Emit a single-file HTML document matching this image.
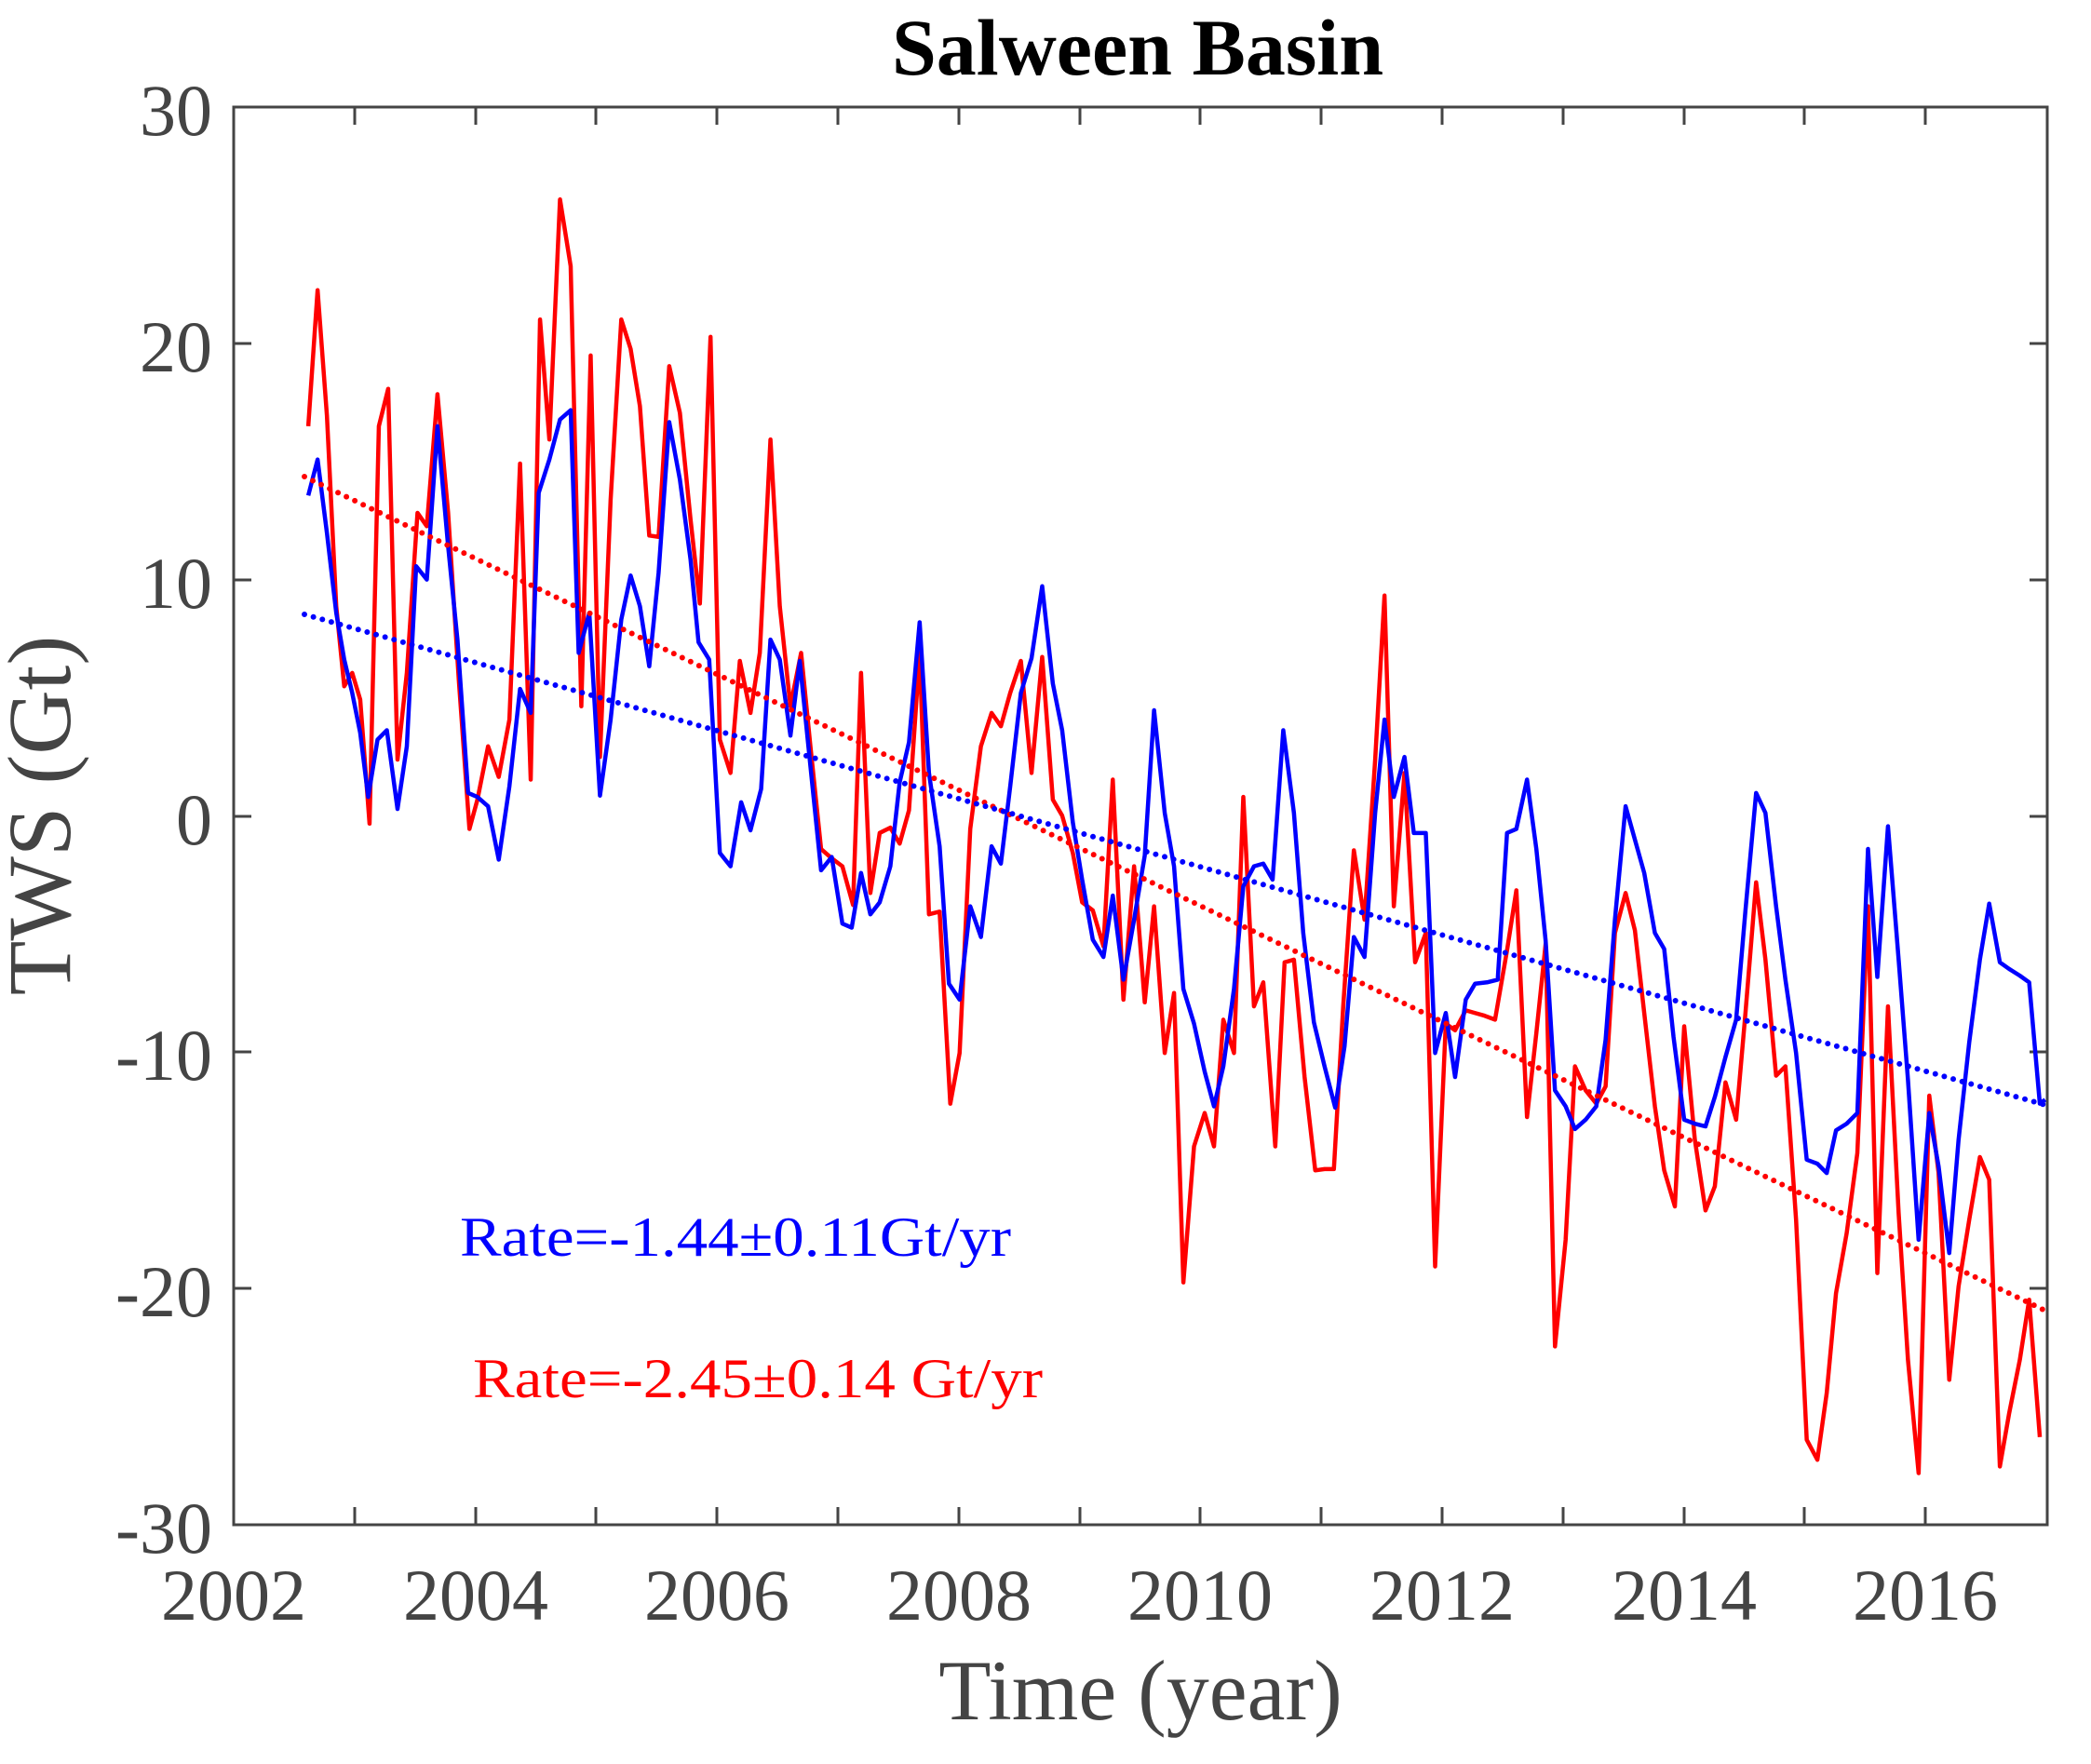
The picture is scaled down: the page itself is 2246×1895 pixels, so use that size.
<!DOCTYPE html>
<html><head><meta charset="utf-8"><style>html,body{margin:0;padding:0;background:#fff}</style></head>
<body>
<svg width="2246" height="1890" viewBox="0 0 2246 1890" xmlns="http://www.w3.org/2000/svg" font-family="'Liberation Serif', serif">
<rect width="2246" height="1890" fill="#fff"/>
<g stroke="#444" stroke-width="3" fill="none">
<rect x="251" y="115" width="1948" height="1523"/>
<path d="M251,369h19M251,623h19M251,877h19M251,1130h19M251,1384h19M2199,369h-19M2199,623h-19M2199,877h-19M2199,1130h-19M2199,1384h-19
M381,1638v-19M511,1638v-19M640,1638v-19M770,1638v-19M900,1638v-19M1030,1638v-19M1160,1638v-19M1289,1638v-19M1419,1638v-19M1549,1638v-19M1679,1638v-19M1809,1638v-19M1938,1638v-19M2068,1638v-19
M381,115v19M511,115v19M640,115v19M770,115v19M900,115v19M1030,115v19M1160,115v19M1289,115v19M1419,115v19M1549,115v19M1679,115v19M1809,115v19M1938,115v19M2068,115v19"/>
</g>
<g fill="#444" font-size="78" text-anchor="end">
<text x="228" y="145">30</text><text x="228" y="399">20</text><text x="228" y="653">10</text><text x="228" y="907">0</text><text x="228" y="1160">-10</text><text x="228" y="1414">-20</text><text x="228" y="1668">-30</text>
</g>
<g fill="#444" font-size="78" text-anchor="middle">
<text x="251" y="1740">2002</text><text x="511" y="1740">2004</text><text x="770" y="1740">2006</text><text x="1030" y="1740">2008</text><text x="1289" y="1740">2010</text><text x="1549" y="1740">2012</text><text x="1809" y="1740">2014</text><text x="2068" y="1740">2016</text>
</g>
<text x="1225" y="1847" fill="#444" font-size="92" text-anchor="middle">Time (year)</text>
<text transform="translate(75,876) rotate(-90)" fill="#444" font-size="96" text-anchor="middle">TWS (Gt)</text>
<text x="1222" y="80" fill="#000" font-size="86" font-weight="bold" text-anchor="middle">Salween Basin</text>
<g transform="matrix(1.4307,0,0,1.4327,0.63,-0.62)" fill="none" stroke-linejoin="round">
<polyline stroke="#f00" stroke-width="4.5" vector-effect="non-scaling-stroke" points="231,320 238,218 245,312 252,455 258,515 264,505 270,525 277,618 284,320 291,292 298,570 305,505 313,385 320,395 328,296 336,385 344,510 352,622 358,600 366,560 374,583 382,540 390,348 398,585 405,240 412,330 420,150 428,200 436,530 443,267 450,568 458,375 466,240 473,262 480,305 487,402 494,403 502,275 510,310 518,390 525,453 533,253 540,555 548,580 555,496 563,535 570,490 578,330 585,455 593,530 601,490 608,560 616,637 624,644 632,650 640,679 646,505 653,670 660,625 668,621 675,633 682,608 690,490 697,686 705,684 713,828 720,790 728,622 736,560 744,535 751,545 758,520 766,496 774,580 782,493 790,600 797,612 805,640 812,677 820,683 828,710 835,585 843,750 851,650 859,752 866,680 874,790 881,745 888,962 896,860 904,835 911,860 918,765 926,790 933,598 941,755 948,737 957,860 964,722 971,720 979,808 987,878 994,877 1001,877 1008,755 1016,638 1024,690 1032,570 1039,447 1046,680 1054,580 1062,722 1070,700 1077,950 1085,768 1092,773 1100,758 1107,760 1114,762 1122,765 1131,713 1138,668 1146,838 1153,775 1160,708 1167,1010 1175,930 1182,800 1190,818 1198,828 1205,815 1212,700 1220,670 1227,698 1234,760 1242,830 1249,878 1257,905 1264,770 1272,855 1280,908 1287,890 1295,812 1303,840 1310,760 1318,662 1325,720 1333,807 1340,800 1348,915 1356,1080 1364,1095 1371,1045 1378,970 1386,925 1394,865 1402,680 1409,955 1417,755 1425,910 1432,1020 1440,1105 1448,822 1455,880 1463,1035 1470,965 1478,915 1486,868 1493,885 1501,1100 1508,1060 1516,1020 1523,975 1531,1078"/>
<polyline stroke="#00f" stroke-width="4.5" vector-effect="non-scaling-stroke" points="231,372 238,345 245,400 252,460 258,495 264,520 270,550 276,598 283,555 290,548 298,607 305,560 312,425 320,435 328,320 336,410 343,480 351,595 358,598 366,605 374,645 382,590 390,517 398,535 404,370 412,345 420,315 428,308 434,490 442,460 450,597 458,540 466,465 473,432 480,455 487,500 494,430 502,317 510,360 518,420 524,482 532,495 540,640 548,650 556,602 563,623 571,592 578,480 585,495 593,552 600,496 608,575 616,653 624,643 632,693 639,696 646,655 653,686 660,677 668,650 675,587 682,557 690,467 697,580 705,635 712,738 720,750 728,680 736,703 744,635 751,648 758,590 766,520 774,494 782,440 790,513 797,548 805,617 812,660 820,705 828,718 835,672 843,735 851,690 859,642 866,533 874,610 881,650 888,742 896,768 904,804 911,830 918,800 926,742 933,665 941,650 948,648 955,660 963,548 971,610 978,700 986,767 994,800 1002,831 1009,785 1016,703 1024,718 1032,610 1039,540 1046,598 1054,568 1061,625 1070,625 1077,790 1085,760 1092,808 1100,750 1107,738 1116,737 1124,735 1131,625 1138,622 1146,585 1153,637 1160,706 1167,818 1175,830 1182,847 1190,840 1198,830 1205,780 1212,690 1220,605 1227,630 1234,655 1242,700 1249,712 1256,778 1264,840 1272,843 1280,845 1287,823 1295,793 1303,765 1310,683 1318,595 1325,610 1333,680 1340,735 1348,790 1356,870 1364,873 1371,880 1378,848 1386,843 1394,835 1402,637 1409,733 1417,620 1425,720 1432,810 1440,930 1448,835 1455,875 1463,940 1470,855 1478,782 1486,720 1493,678 1501,722 1508,727 1516,732 1523,737 1531,828 1535,825"/>
</g>
<line x1="327" y1="512" x2="2197" y2="1408" stroke="#f00" stroke-width="6" stroke-linecap="round" stroke-dasharray="0 10"/>
<line x1="327" y1="660" x2="2197" y2="1187" stroke="#00f" stroke-width="6" stroke-linecap="round" stroke-dasharray="0 10"/>
<text x="494" y="1349" fill="#00f" font-size="60" textLength="592" lengthAdjust="spacingAndGlyphs">Rate=-1.44±0.11Gt/yr</text>
<text x="508" y="1501" fill="#f00" font-size="60" textLength="612" lengthAdjust="spacingAndGlyphs">Rate=-2.45±0.14 Gt/yr</text>
</svg>
</body></html>
